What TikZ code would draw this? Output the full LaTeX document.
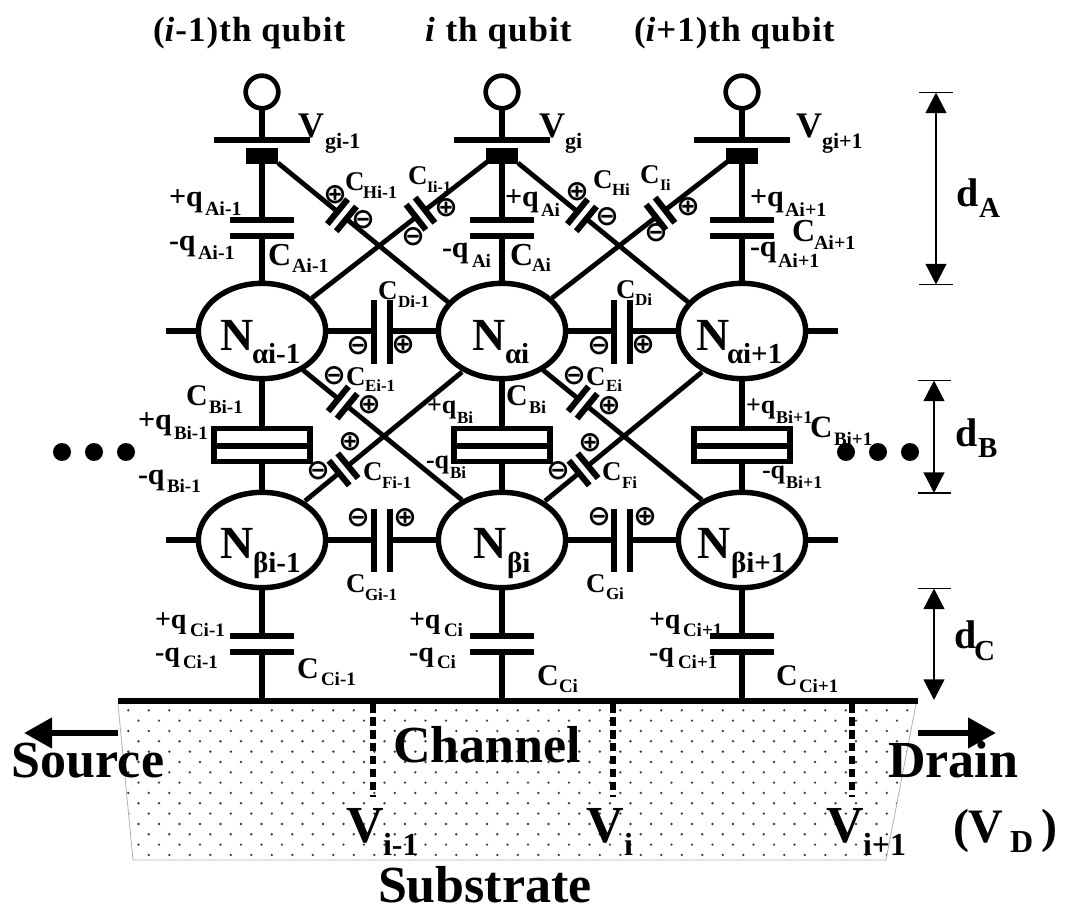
\documentclass[tikz,border=0pt]{standalone}
\usepackage{fontspec}
\setmainfont{Liberation Serif}
\newfontfamily\symfont{DejaVu Sans}
\usetikzlibrary{calc,shapes.geometric,arrows.meta}
\newcounter{labn}
\newlength{\px}\setlength{\px}{0.75pt}
\tikzset{
  wire/.style={line width=4.1pt},
  dwire/.style={line width=3.6pt},
  plate/.style={line width=4.6pt},
  bar/.style={line width=4.3pt},
  dimline/.style={line width=1.8pt,{Triangle[length=15.5pt,width=15.5pt]}-{Triangle[length=15.5pt,width=15.5pt]}},
  tick/.style={line width=1.4pt},
  bigarrow/.style={line width=4.8pt,-{Triangle[length=21pt,width=22pt]}},
  nellipse/.style={draw,fill=white,ellipse,line width=4.1pt,inner sep=0pt,outer sep=0pt,minimum width=95.5pt,minimum height=71.5pt},
  terminal/.style={draw,fill=white,circle,line width=3.5pt,inner sep=0pt,outer sep=0pt,minimum size=24.5pt},
  gateblock/.style={fill=black,inner sep=0pt,outer sep=0pt,minimum width=24pt,minimum height=12pt},
  bdot/.style={fill=black,circle,inner sep=0pt,minimum size=13.5pt},
  txt/.style={inner sep=0pt,outer sep=0pt,anchor=base west,font=\bfseries},
  symb/.style={inner sep=0pt,outer sep=0pt,font={\symfont\bfseries\fontsize{21pt}{21pt}\selectfont}},
}
% size (px) main, x, y, main text, sub x offset, sub y offset, size (px) sub, sub text
\newcommand\Lab[8]{\stepcounter{labn}%
  \node[txt,name=L\thelabn] at (#2,#3) {\fontsize{#1\px}{#1\px}\selectfont\makebox[0pt][l]{#4}\hspace{#5\px}\raisebox{-#6\px}{\fontsize{#7\px}{#7\px}\selectfont #8}};}
\newcommand\Txt[4]{\stepcounter{labn}%
  \node[txt,name=L\thelabn] at (#2,#3) {\fontsize{#1\px}{#1\px}\selectfont #4};}
\newcommand\Ttl[3]{\stepcounter{labn}%
  \node[txt,name=L\thelabn] at (#1,#2) {\fontsize{35\px}{35\px}\selectfont\addfontfeature{LetterSpace=3} #3};}
\newcommand\Pl[2]{\stepcounter{labn}\node[symb,name=L\thelabn] at (#1,#2) {⊕};}
\newcommand\Mi[2]{\stepcounter{labn}\node[symb,name=L\thelabn] at (#1,#2) {⊖};}
% diagonal capacitor between two named points at fraction #3
\newcommand\dcap[3]{%
  \coordinate (dc) at ($(#1)!#3!(#2)$);
  \coordinate (dp) at ($(dc)!4.3pt!(#1)$);
  \coordinate (dq) at ($(dc)!4.3pt!(#2)$);
  \draw[dwire] (#1) -- (dp);
  \draw[dwire] (dq) -- (#2);
  \draw[plate] ($(dp)!12pt!90:(#1)$) -- ($(dp)!12pt!-90:(#1)$);
  \draw[plate] ($(dq)!12pt!90:(#2)$) -- ($(dq)!12pt!-90:(#2)$);
}
\begin{document}
\begin{tikzpicture}[x=0.75pt,y=-0.75pt]
\useasboundingbox (0,0) rectangle (1065,913);
% substrate
\begin{scope}
  \clip (118,704) -- (916,704) -- (886,860) -- (133,860) -- cycle;
  \foreach \r in {0,...,14}{
    \pgfmathsetmacro{\yy}{710.3+10.33*\r}
    \pgfmathsetmacro{\xs}{isodd(\r)?138.5:128.3}
    \foreach \k in {-1,...,38}{
      \fill[black!75] ({\xs+20.5*\k},\yy) circle (1pt);
    }
  }
\end{scope}
\draw[black!30,line width=0.6pt] (118,704) -- (133,860) -- (886,860) -- (916,704);
% channel line
\coordinate (chL) at (118,701);
\coordinate (chR) at (918,701);
\draw[line width=5pt] (chL) -- (chR);
% dashed probes
\foreach \n/\x in {1/373,2/613,3/852}{
  \coordinate (pa\n) at (\x,704);
  \coordinate (pb\n) at (\x,797);
  \draw[line width=4.2pt,dash pattern=on 6.5pt off 3.2pt] (pa\n) -- (pb\n);
}
% ellipses, terminals, blocks (positions)
\foreach \n/\x in {1/262,2/502,3/742}{
  \node[nellipse,name=Na\n] at (\x,331) {};
  \node[nellipse,name=Nb\n] at (\x,540) {};
  \node[terminal,name=T\n] at (\x,92) {};
  \node[gateblock,name=B\n] at (\x,156) {};
  \coordinate (gL\n) at (\x-48,140);
  \coordinate (gR\n) at (\x+48,140);
  \coordinate (gM\n) at (\x,140);
  \draw[bar] (gL\n) -- (gR\n);
  \draw[wire] (T\n.south) -- (gM\n);
  % capacitor A
  \coordinate (At\n) at (\x,220); \coordinate (Ab\n) at (\x,236);
  \coordinate (Atl\n) at (\x-32,220); \coordinate (Atr\n) at (\x+32,220);
  \coordinate (Abl\n) at (\x-32,236); \coordinate (Abr\n) at (\x+32,236);
  \draw[wire] (B\n.south) -- (At\n);
  \draw[wire] (Ab\n) -- (Na\n.north);
  \draw[plate] (Atl\n) -- (Atr\n);
  \draw[plate] (Abl\n) -- (Abr\n);
  % capacitor B
  \coordinate (Bl\n) at (\x-49,446); \coordinate (Br\n) at (\x+49,446);
  \coordinate (Bt\n) at (\x,428.5); \coordinate (Bb\n) at (\x,461.5);
  \draw[wire] (Na\n.south) -- (Bt\n);
  \draw[wire] (Bb\n) -- (Nb\n.north);
  \draw[line width=4.1pt] (\x-48,428.5) rectangle (\x+48,461.5);
  \draw[line width=4.1pt] (Bl\n) -- (Br\n);
  % capacitor C
  \coordinate (Ct\n) at (\x,636); \coordinate (Cb\n) at (\x,652);
  \coordinate (Ctl\n) at (\x-32,636); \coordinate (Ctr\n) at (\x+32,636);
  \coordinate (Cbl\n) at (\x-32,652); \coordinate (Cbr\n) at (\x+32,652);
  \coordinate (Cg\n) at (\x,700);
  \draw[wire] (Nb\n.south) -- (Ct\n);
  \draw[wire] (Cb\n) -- (Cg\n);
  \draw[plate] (Ctl\n) -- (Ctr\n);
  \draw[plate] (Cbl\n) -- (Cbr\n);
}
% outer stubs
\coordinate (s1) at (166,331); \coordinate (s2) at (838,331);
\coordinate (s3) at (166,540); \coordinate (s4) at (838,540);
\draw[wire] (s1) -- (Na1.west);
\draw[wire] (Na3.east) -- (s2);
\draw[wire] (s3) -- (Nb1.west);
\draw[wire] (Nb3.east) -- (s4);
% horizontal capacitors
\foreach \a/\b/\u/\v in {1/2/374/390,2/3/614/630}{
  \coordinate (Dl\a) at (\u,331); \coordinate (Dr\a) at (\v,331);
  \draw[wire] (Na\a.east) -- (Dl\a);
  \draw[wire] (Dr\a) -- (Na\b.west);
  \draw[plate] (\u,300) -- (\u,364);
  \draw[plate] (\v,300) -- (\v,364);
  \coordinate (Gl\a) at (\u,540); \coordinate (Gr\a) at (\v,540);
  \draw[wire] (Nb\a.east) -- (Gl\a);
  \draw[wire] (Gr\a) -- (Nb\b.west);
  \draw[plate] (\u,509) -- (\u,572);
  \draw[plate] (\v,509) -- (\v,572);
}
% diagonal capacitors
\foreach \a/\b/\o in {1/2/0,2/3/240}{
  \coordinate (Hs) at (278+\o,163); \coordinate (He) at (448+\o,302);
  \dcap{Hs}{He}{.376}
  \coordinate (Is) at (487+\o,162); \coordinate (Ie) at (312+\o,298);
  \dcap{Is}{Ie}{.38}
  \coordinate (Es) at (303+\o,370); \coordinate (Ee) at (462+\o,500);
  \dcap{Es}{Ee}{.25}
  \coordinate (Fs) at (305+\o,501); \coordinate (Fe) at (462+\o,372);
  \dcap{Fs}{Fe}{.245}
}
% row dots
\foreach \n/\x in {1/62,2/94,3/126,4/846,5/878,6/910}{
  \node[bdot,name=dot\n] at (\x,452) {};
}
% dimension arrows
\coordinate (dAt) at (936,92.5); \coordinate (dAb) at (936,284.5);
\draw[tick] (919,92.5) -- (953,92.5); \draw[tick] (919,284.5) -- (953,284.5);
\draw[dimline] (dAt) -- (dAb);
\coordinate (dBt) at (934,380.5); \coordinate (dBb) at (934,493);
\draw[tick] (918,380.5) -- (951,380.5); \draw[tick] (918,493) -- (951,493);
\draw[dimline] (dBt) -- (dBb);
\coordinate (dCt) at (934,588.5); \coordinate (dCb) at (934,700);
\draw[tick] (918,588.5) -- (951,588.5);
\draw[dimline] (dCt) -- (dCb);
% source / drain arrows
\coordinate (srcE) at (24,733); \coordinate (drnE) at (996,733);
\coordinate (srcS) at (118,733); \coordinate (drnS) at (918,733);
\draw[bigarrow] (srcS) -- (srcE);
\draw[bigarrow] (drnS) -- (drnE);
% charge signs
\Pl{335}{195}\Mi{363}{220}\Pl{446}{208}\Mi{413}{237}
\Pl{577}{192}\Mi{607}{217}\Pl{688}{207}\Mi{656}{233}
\Mi{358}{346}\Pl{403}{345}\Mi{599}{346}\Pl{643}{345}
\Mi{334}{376}\Pl{369}{405}\Mi{574}{376}\Pl{609}{406}
\Pl{350}{442}\Mi{318}{471}\Pl{590}{443}\Mi{558}{471}
\Mi{358}{518}\Pl{405}{518}\Mi{599}{517}\Pl{645}{517}
% titles
\Ttl{153}{42}{(\textit{i}-1)th qubit}
\Ttl{425}{42}{\textit{i} th qubit}
\Ttl{634}{42}{(\textit{i}+1)th qubit}
% gate voltages
\Lab{36}{298}{138}{V}{27}{11}{22}{gi-1}
\Lab{36}{539}{138}{V}{26}{11}{22}{gi}
\Lab{36}{796}{138}{V}{26}{11}{22}{gi+1}
% A row
\Lab{30}{169}{207}{+q}{36}{9}{20}{Ai-1}
\Lab{30}{169}{251}{-q}{29}{9}{20}{Ai-1}
\Lab{32}{268}{266}{C}{24}{7}{20}{Ai-1}
\Lab{30}{505}{207}{+q}{36}{10}{19}{Ai}
\Lab{30}{442}{258}{-q}{30}{10}{19}{Ai}
\Lab{32}{510}{266}{C}{22}{6}{19}{Ai}
\Lab{30}{750}{207}{+q}{35}{10}{20}{Ai+1}
\Lab{32}{792}{242}{C}{22}{8}{20}{Ai+1}
\Lab{30}{750}{257}{-q}{28}{11}{20}{Ai+1}
% H, I
\Lab{27}{345}{191}{C}{18}{8}{18}{Hi-1}
\Lab{27}{408}{185}{C}{19}{8}{16}{Ii-1}
\Lab{27}{593}{189}{C}{19}{7}{17}{Hi}
\Lab{27}{640}{184}{C}{20}{7}{16}{Ii}
% D
\Lab{27}{378}{300}{C}{20}{8}{17}{Di-1}
\Lab{27}{616}{299}{C}{19}{7}{17}{Di}
% N
\Lab{46}{220}{350}{N}{32}{13}{29}{αi-1}
\Lab{46}{472}{350}{N}{33}{13}{29}{αi}
\Lab{46}{696}{350}{N}{31}{13}{29}{αi+1}
\Lab{46}{220}{558}{N}{33}{14}{29}{βi-1}
\Lab{46}{473}{558}{N}{34}{14}{29}{βi}
\Lab{46}{697}{558}{N}{34}{14}{29}{βi+1}
% E, F, G
\Lab{27}{346}{385}{C}{19}{7}{17}{Ei-1}
\Lab{27}{363}{480}{C}{19}{8}{17}{Fi-1}
\Lab{27}{586}{385}{C}{20}{7}{17}{Ei}
\Lab{27}{602}{480}{C}{20}{8}{17}{Fi}
\Lab{27}{346}{592}{C}{19}{8}{17}{Gi-1}
\Lab{27}{586}{592}{C}{20}{7}{17}{Gi}
% B row
\Lab{30}{186}{405}{C}{23}{8}{19}{Bi-1}
\Lab{30}{138}{429}{+q}{36}{10}{19}{Bi-1}
\Lab{30}{138}{484}{-q}{29}{8}{19}{Bi-1}
\Lab{26}{427}{413}{+q}{30}{10}{17}{Bi}
\Lab{26}{426}{468}{-q}{24}{10}{17}{Bi}
\Lab{30}{506}{405}{C}{23}{8}{18}{Bi}
\Lab{26}{746}{413}{+q}{30}{10}{18}{Bi+1}
\Lab{31}{810}{437}{C}{24}{8}{19}{Bi+1}
\Lab{26}{762}{478}{-q}{24}{10}{18}{Bi+1}
% C row
\Lab{28}{155}{628}{+q}{35}{8}{19}{Ci-1}
\Lab{28}{155}{661}{-q}{28}{7}{19}{Ci-1}
\Lab{30}{297}{678}{C}{24}{7}{19}{Ci-1}
\Lab{28}{409}{628}{+q}{35}{8}{19}{Ci}
\Lab{28}{409}{661}{-q}{28}{7}{19}{Ci}
\Lab{30}{537}{685}{C}{22}{7}{19}{Ci}
\Lab{28}{649}{628}{+q}{34}{8}{19}{Ci+1}
\Lab{28}{649}{661}{-q}{29}{7}{19}{Ci+1}
\Lab{30}{776}{685}{C}{23}{7}{19}{Ci+1}
% d labels
\Lab{40}{956}{207}{d}{23}{11}{29}{A}
\Lab{40}{955}{446}{d}{23}{11}{29}{B}
\Lab{40}{954}{648}{d}{20}{12}{29}{C}
% channel labels
\Txt{52}{393}{762}{Channel}
\Txt{52}{12}{777}{Source}
\Txt{52}{888}{777}{Drain}
\Txt{52}{378}{902}{Substrate}
\Lab{52}{346}{842}{V}{37}{13}{32}{i-1}
\Lab{52}{586}{842}{V}{38}{13}{32}{i}
\Lab{52}{826}{842}{V}{37}{13}{32}{i+1}
\Lab{48}{953}{842}{(V}{57}{10}{32}{D}
\Txt{48}{1041}{842}{)}
\end{tikzpicture}
\end{document}
